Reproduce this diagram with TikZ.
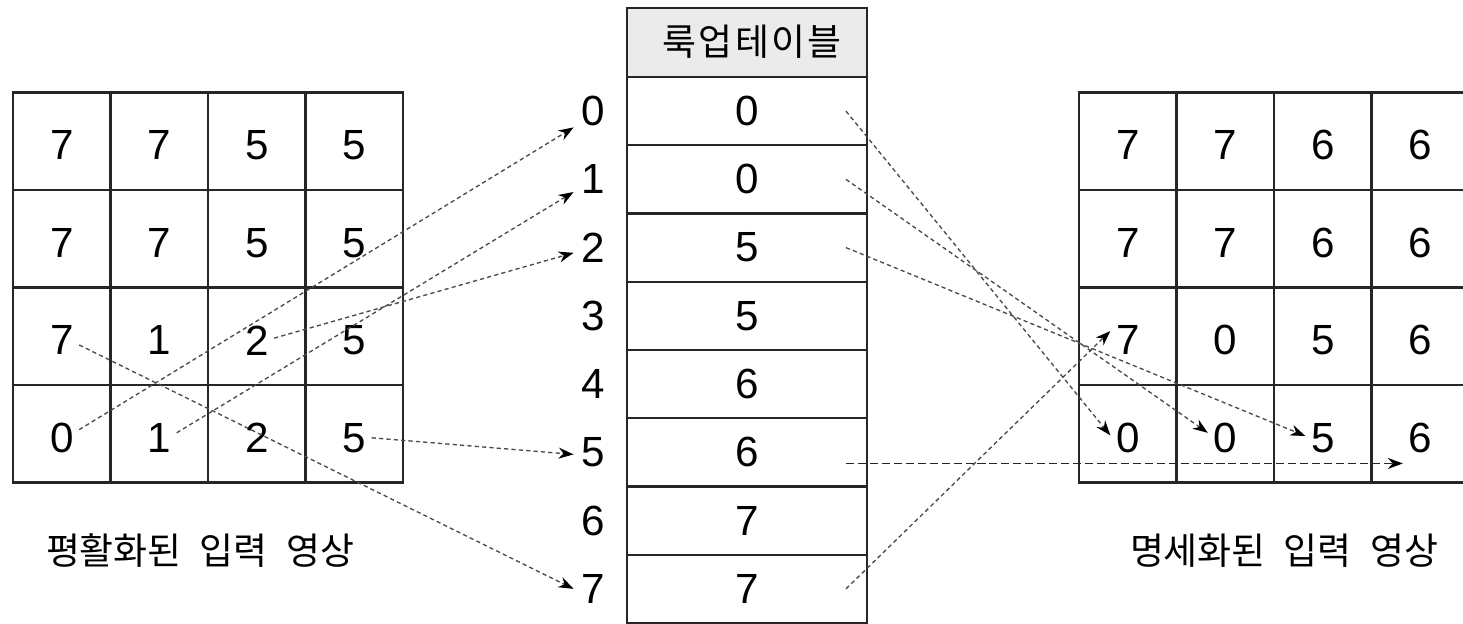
\documentclass[tikz,border=0pt]{standalone}
\usepackage{fontspec}
\setmainfont{Noto Sans CJK KR}[WordSpace=2.2]
\newfontfamily\digitfont{Liberation Sans}
\usetikzlibrary{arrows.meta}
\definecolor{hdrc}{HTML}{EBEBEB}
\definecolor{dashc}{HTML}{4A4A4A}
\tikzset{
  frame/.style={draw=black!85, line width=0.6pt},
  num/.style={font=\digitfont\fontsize{12}{14}\selectfont, inner sep=0.05cm},
  idx/.style={num, inner sep=0.07cm},
  ttl/.style={font=\fontsize{10.5}{13}\selectfont, inner sep=1pt},
  arr/.style={-{Stealth[length=1.5mm, width=1.1mm, color=black]}, draw=dashc, line width=0.38pt,
              dash pattern=on 1.2pt off 0.9pt},
  fat/.style={-{Stealth[length=1.5mm, width=1.1mm, color=black]}, draw=black!85, line width=0.5pt,
              dash pattern=on 2.3pt off 1.1pt},
}

\begin{document}
\begin{tikzpicture}[x=1cm, y=1cm]
\useasboundingbox (0,0) rectangle (14.63,6.23);
\clip (0,0) rectangle (14.63,6.23);

% equalized input image
\foreach \row [count=\r from 0] in {{7,7,5,5},{7,7,5,5},{7,1,2,5},{0,1,2,5}} {
  \foreach \v [count=\c from 0] in \row {
    \draw[frame] ({0.13+0.975*\c},{5.305-0.975*\r}) rectangle ++(0.975,-0.975);
    \node[num] (l\r\c) at ({0.6175+0.975*\c},{4.777-0.975*\r}) {\v};
  }
}
\node[ttl] (incap) at (2.00,0.72) {평활화된 입력 영상};

% lookup table with its indices
\draw[frame, fill=hdrc] (6.27,6.15) rectangle (8.67,5.46);
\node[ttl] (hdr) at (7.52,5.81) {\addfontfeature{LetterSpace=6}룩업테이블};
\foreach \v [count=\k from 0] in {0,0,5,5,6,6,7,7} {
  \draw[frame] (6.27,{5.46-0.6825*\k}) rectangle (8.67,{5.46-0.6825*(\k+1)});
  \node[num] (v\k) at (7.47,{5.46-0.6825*(\k+0.5)}) {\v};
  \node[idx] (i\k) at (5.93,{5.46-0.6825*(\k+0.5)}) {\k};
  \coordinate (s\k) at (8.46,{5.46-0.6825*(\k+0.5)});
}

% specified input image
\foreach \row [count=\r from 0] in {{7,7,6,6},{7,7,6,6},{7,0,5,6},{0,0,5,6}} {
  \foreach \v [count=\c from 0] in \row {
    \draw[frame] ({10.79+0.975*\c},{5.305-0.975*\r}) rectangle ++(0.975,-0.975);
    \node[num] (o\r\c) at ({11.2775+0.975*\c},{4.777-0.975*\r}) {\v};
  }
}
\node[ttl] (outcap) at (12.84,0.72) {명세화된 입력 영상};

% input value -> index
\draw[arr] (l30.25) -- (i0.220);
\draw[arr] (l31.16) -- (i1.213);
\draw[arr] (l22.7) -- (i2.195);
\draw[arr] (l33.east) -- (i5.186);
\draw[arr] (l20.345) -- (i7.west);

% table entry -> output value
\draw[arr] (s0) -- (o30.172);
\draw[arr] (s1) -- (o31.164);
\draw[arr] (s2) -- (o32.174);
\draw[fat] ([yshift=-0.05cm]s5 |- o33.south west) -- ([yshift=-0.05cm]o33.south west);
\draw[arr] (s7) -- (o20.152);
\end{tikzpicture}
\end{document}
